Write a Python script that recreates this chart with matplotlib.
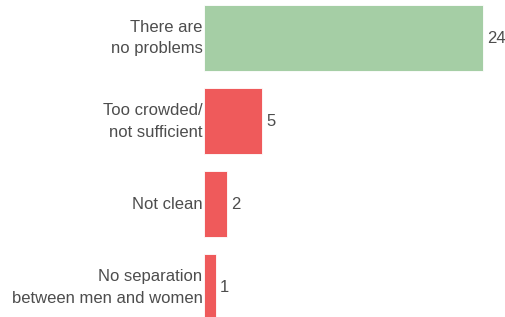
import matplotlib
matplotlib.use('Agg')
import matplotlib.pyplot as plt

# survey answers, top to bottom
categories = ['There are\nno problems', 'Too crowded/\nnot sufficient', 'Not clean',
              'No separation\nbetween men and women']
counts = [24, 5, 2, 1]
bar_colors = ['#a5cea5', '#ef5a5b', '#ef5a5b', '#ef5a5b']

plt.rcParams['font.family'] = ['Liberation Sans', 'DejaVu Sans']
text_color = '#4d4d4d'
fs = 12

fig = plt.figure(figsize=(5.06, 3.17), dpi=100)
ax = fig.add_axes([204 / 506, 0, 302 / 506, 1])

ypos = list(range(len(categories)))
ax.barh(ypos, counts, height=0.8, color=bar_colors, edgecolor='white', linewidth=0.6)

for y, v in zip(ypos, counts):
    ax.annotate(str(v), (v, y), xytext=(3, 0), textcoords='offset points',
                va='center', ha='left', fontsize=fs, color=text_color)

ax.set_xlim(0, 26)
ax.set_ylim(3.361, -0.458)
ax.set_yticks(ypos)
ax.set_yticklabels(categories, fontsize=fs, color=text_color, linespacing=1.58, va='center')
ax.tick_params(axis='y', length=0, pad=1)
ax.set_xticks([])
for s in ax.spines.values():
    s.set_visible(False)

fig.savefig('out.png', dpi=100)
